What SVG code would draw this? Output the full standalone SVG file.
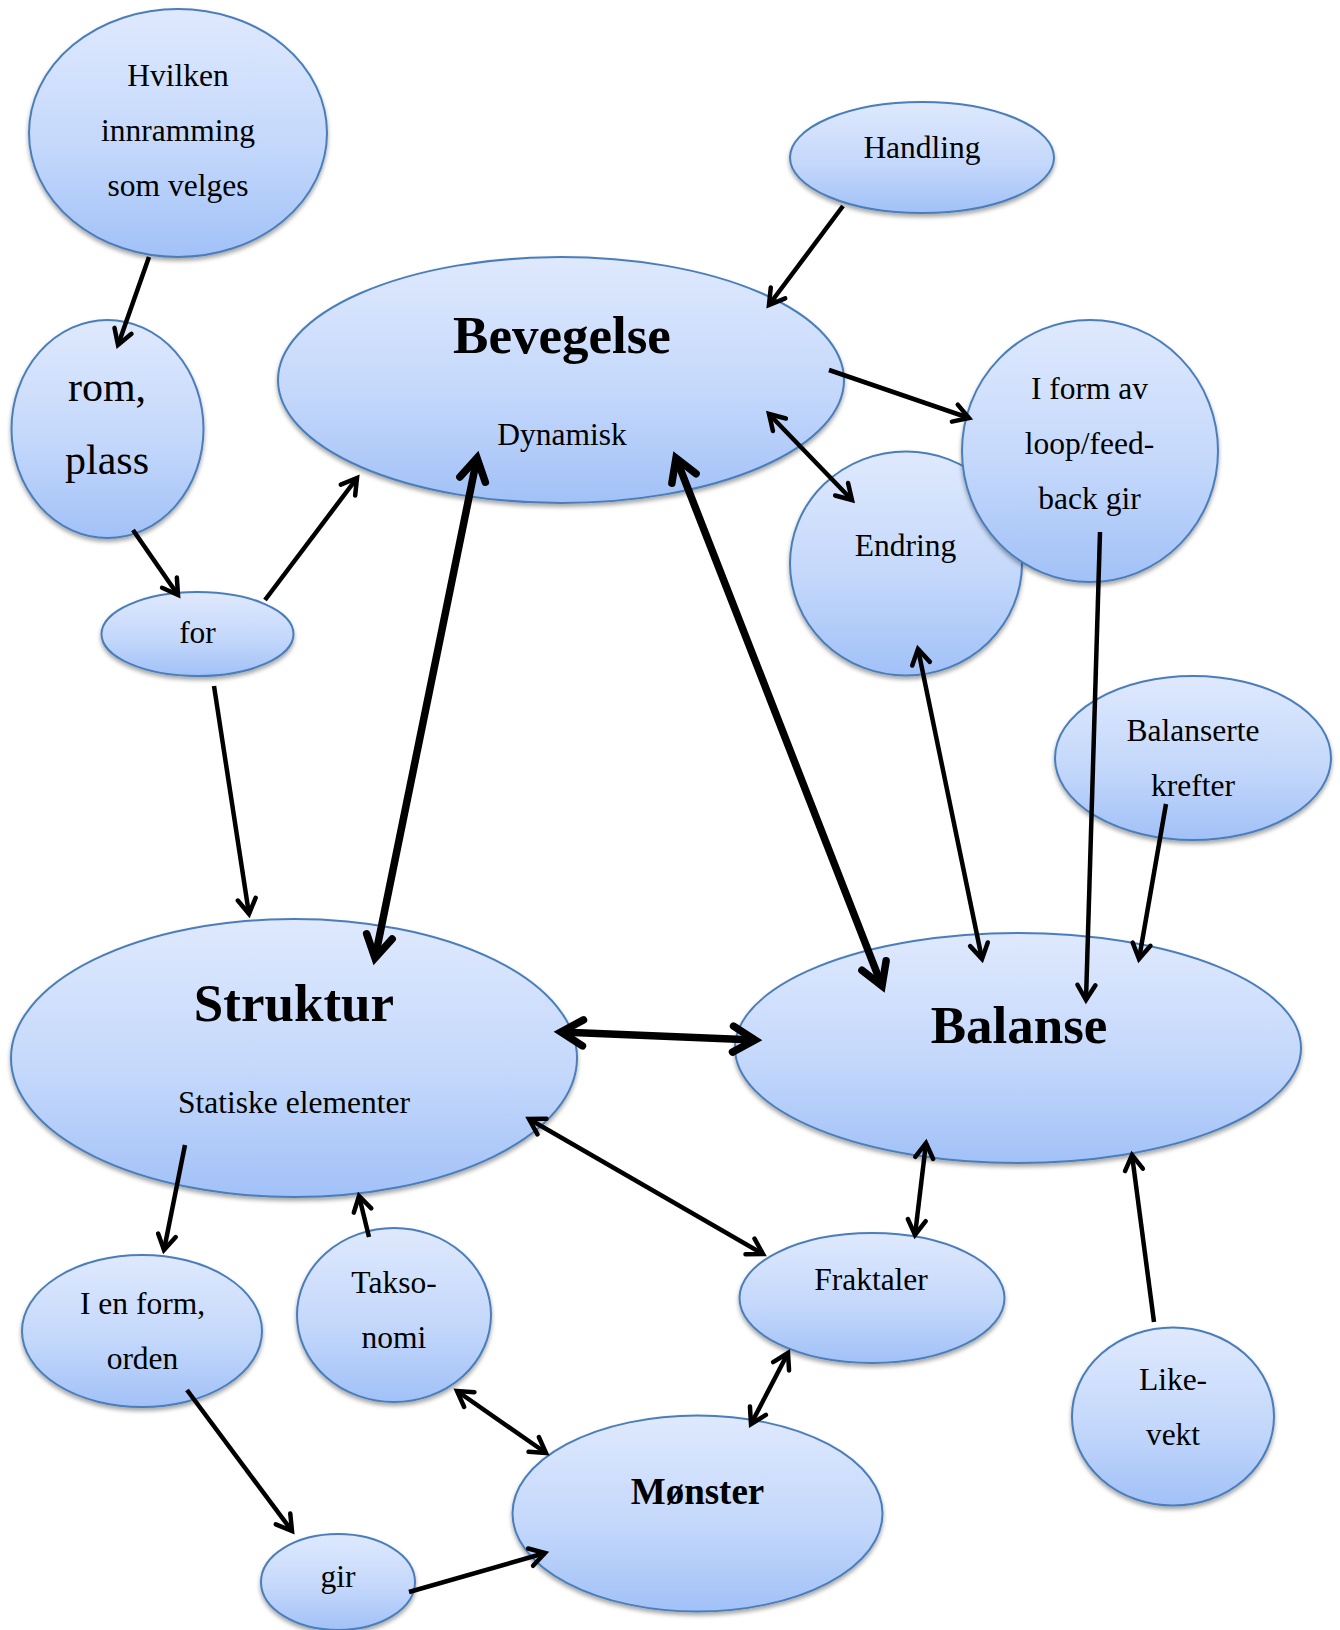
<svg xmlns="http://www.w3.org/2000/svg" width="1340" height="1630" viewBox="0 0 1340 1630">
  <defs>
    <linearGradient id="bubble" x1="0" y1="0" x2="0" y2="1">
      <stop offset="0" stop-color="#dfe9fd"/>
      <stop offset="0.55" stop-color="#c4d8fb"/>
      <stop offset="1" stop-color="#a2c1f7"/>
    </linearGradient>
    <filter id="shadow" x="-10%" y="-10%" width="120%" height="130%">
      <feDropShadow dx="0" dy="3" stdDeviation="2.2" flood-color="#000" flood-opacity="0.35"/>
    </filter>
    <!-- open chevron heads -->
    <marker id="head" markerUnits="userSpaceOnUse" viewBox="-20 -12 24 24" refX="0" refY="0" markerWidth="24" markerHeight="24" orient="auto-start-reverse" overflow="visible">
      <path d="M-15,-9 L0,0 L-15,9" fill="none" stroke="#000" stroke-width="4.5" stroke-linecap="round" stroke-linejoin="miter"/>
    </marker>
    <marker id="headBig" markerUnits="userSpaceOnUse" viewBox="-30 -16 34 32" refX="0" refY="0" markerWidth="34" markerHeight="32" orient="auto-start-reverse" overflow="visible">
      <path d="M-22,-13 L0,0 L-22,13" fill="none" stroke="#000" stroke-width="7.5" stroke-linecap="round" stroke-linejoin="miter"/>
    </marker>
  </defs>
  <style>
    .node ellipse { fill: url(#bubble); stroke: #4a7ebb; stroke-width: 2; filter: url(#shadow); }
    text { font-family: "Liberation Serif", "Times New Roman", serif; fill: #000; text-anchor: middle; }
    .t { font-size: 31.5px; }
    .big { font-size: 42px; }
    .title { font-size: 53px; font-weight: bold; }
    .mid { font-size: 37px; font-weight: bold; }
    .c { fill: none; stroke: #000; stroke-width: 4.5; marker-end: url(#head); }
    .c2 { fill: none; stroke: #000; stroke-width: 4.5; marker-start: url(#head); marker-end: url(#head); }
    .k2 { fill: none; stroke: #000; stroke-width: 7.5; marker-start: url(#headBig); marker-end: url(#headBig); }
  </style>

  <rect width="1340" height="1630" fill="#fff"/>

  <g id="n-hvilken" class="node">
    <ellipse cx="178" cy="133" rx="149" ry="124"/>
    <text class="t" x="178" y="86">Hvilken</text>
    <text class="t" x="178" y="141">innramming</text>
    <text class="t" x="178" y="196">som velges</text>
  </g>
  <g id="n-rom" class="node">
    <ellipse cx="107.5" cy="429" rx="96" ry="109"/>
    <text class="big" x="107" y="401">rom,</text>
    <text class="big" x="107" y="474">plass</text>
  </g>
  <g id="n-for" class="node">
    <ellipse cx="197.5" cy="634" rx="96" ry="42"/>
    <text class="t" x="197.5" y="643">for</text>
  </g>
  <g id="n-handling" class="node">
    <ellipse cx="922" cy="157.5" rx="132" ry="55.5"/>
    <text class="t" x="922" y="158">Handling</text>
  </g>
  <g id="n-bevegelse" class="node">
    <ellipse cx="561" cy="380" rx="283" ry="123"/>
    <text class="title" x="562" y="353">Bevegelse</text>
    <text class="t" x="562" y="445">Dynamisk</text>
  </g>
  <g id="n-endring" class="node">
    <ellipse cx="906" cy="563.5" rx="116" ry="112"/>
    <text class="t" x="905.5" y="556">Endring</text>
  </g>
  <g id="n-loop" class="node">
    <ellipse cx="1090" cy="451" rx="128" ry="131"/>
    <text class="t" x="1089.5" y="399">I form av</text>
    <text class="t" x="1089.5" y="454">loop/feed-</text>
    <text class="t" x="1089.5" y="509">back gir</text>
  </g>
  <g id="n-krefter" class="node">
    <ellipse cx="1193" cy="758" rx="138" ry="82"/>
    <text class="t" x="1193" y="741">Balanserte</text>
    <text class="t" x="1193" y="796">krefter</text>
  </g>
  <g id="n-struktur" class="node">
    <ellipse cx="294" cy="1058" rx="283" ry="139"/>
    <text class="title" x="294" y="1021">Struktur</text>
    <text class="t" x="294" y="1113">Statiske elementer</text>
  </g>
  <g id="n-balanse" class="node">
    <ellipse cx="1018" cy="1048" rx="283" ry="115"/>
    <text class="title" x="1019" y="1043">Balanse</text>
  </g>
  <g id="n-orden" class="node">
    <ellipse cx="142" cy="1331" rx="120" ry="76"/>
    <text class="t" x="142.5" y="1314">I en form,</text>
    <text class="t" x="142.5" y="1369">orden</text>
  </g>
  <g id="n-taksonomi" class="node">
    <ellipse cx="394" cy="1315" rx="97" ry="87"/>
    <text class="t" x="394" y="1293">Takso-</text>
    <text class="t" x="394" y="1348">nomi</text>
  </g>
  <g id="n-fraktaler" class="node">
    <ellipse cx="872" cy="1298" rx="132.5" ry="65"/>
    <text class="t" x="871" y="1290">Fraktaler</text>
  </g>
  <g id="n-likevekt" class="node">
    <ellipse cx="1173" cy="1416.5" rx="101" ry="89"/>
    <text class="t" x="1173" y="1390">Like-</text>
    <text class="t" x="1173" y="1445">vekt</text>
  </g>
  <g id="n-monster" class="node">
    <ellipse cx="697.5" cy="1513.5" rx="185" ry="98"/>
    <text class="mid" x="697.5" y="1504">Mønster</text>
  </g>
  <g id="n-gir" class="node">
    <ellipse cx="338" cy="1582" rx="77" ry="48"/>
    <text class="t" x="338" y="1587">gir</text>
  </g>

  <g id="connectors">
    <line class="c" x1="149" y1="257" x2="118" y2="345"/>
    <line class="c" x1="133" y1="530" x2="178" y2="595"/>
    <line class="c" x1="265" y1="600" x2="357" y2="478"/>
    <line class="c" x1="214" y1="686" x2="249" y2="914"/>
    <line class="c" x1="843" y1="206" x2="769" y2="305"/>
    <line class="c" x1="829" y1="370" x2="969" y2="418"/>
    <line class="c2" x1="769" y1="414" x2="852" y2="500"/>
    <line class="k2" x1="375" y1="958" x2="477" y2="458"/>
    <line class="k2" x1="676" y1="458" x2="882" y2="986"/>
    <line class="c2" x1="918" y1="649" x2="982" y2="959"/>
    <line class="c" x1="1100" y1="532" x2="1086" y2="1000"/>
    <line class="c" x1="1166" y1="804" x2="1139" y2="959"/>
    <line class="k2" x1="561" y1="1032" x2="755" y2="1040"/>
    <line class="c" x1="185" y1="1145" x2="164" y2="1250"/>
    <line class="c" x1="369" y1="1237" x2="359" y2="1196"/>
    <line class="c2" x1="529" y1="1119" x2="763" y2="1254"/>
    <line class="c2" x1="915" y1="1235" x2="926" y2="1143"/>
    <line class="c" x1="1154" y1="1322" x2="1132" y2="1155"/>
    <line class="c" x1="187" y1="1390" x2="292" y2="1531"/>
    <line class="c2" x1="457" y1="1391" x2="546" y2="1453"/>
    <line class="c2" x1="788" y1="1353" x2="751" y2="1424"/>
    <line class="c" x1="409" y1="1592" x2="545" y2="1553"/>
  </g>
</svg>
